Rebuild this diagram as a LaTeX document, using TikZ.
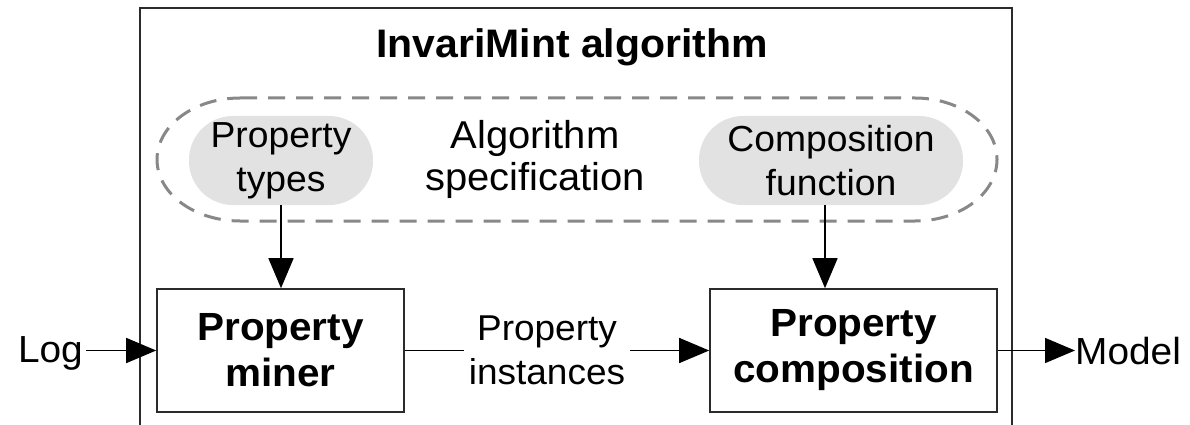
\documentclass[tikz,border=0pt]{standalone}
\usepackage{fontspec}
\setmainfont{Liberation Sans}[FakeStretch=1.03]
\usetikzlibrary{arrows.meta}
\definecolor{pillgray}{HTML}{E2E2E2}
\definecolor{dashgray}{HTML}{888888}
\definecolor{linec}{HTML}{2B2B2B}
\begin{document}
\begin{tikzpicture}[x=1pt,y=-1pt,
  procbox/.style={draw=linec, line width=1.6pt, minimum height=123pt, inner sep=0pt, align=center, font=\bfseries\fontsize{39.3}{46}\selectfont},
  pill/.style={fill=pillgray, rounded corners=44pt, minimum height=89pt, inner sep=0pt, align=center, font=\fontsize{36.2}{44}\selectfont},
  arr/.style={line width=1.5pt, draw=black, -{Triangle[length=30pt,width=25pt]}},
  plainline/.style={line width=1.5pt, draw=black},
  lbl/.style={inner sep=0pt, font=\fontsize{37.7}{42}\selectfont}]
\useasboundingbox (0,0) rectangle (1190,425);
\clip (0,0) rectangle (1190,425);
\fill[white] (0,0) rectangle (1190,425);
% outer frame
\draw[linec, line width=1.8pt] (140,8) rectangle (1012,460);
\node[inner sep=0pt, anchor=base, font=\bfseries\fontsize{39.8}{46}\selectfont] (title) at (572,58) {InvariMint algorithm};
% dashed specification group
\draw[dashgray, line width=3pt, dash pattern=on 17pt off 11pt]
  (240,98) -- (915,98) arc[start angle=-90,end angle=90,x radius=82,y radius=61.5]
  -- (240,221) arc[start angle=90,end angle=270,x radius=83,y radius=61.5] -- cycle;
\node[pill, minimum width=184pt] (pt) at (281,160.5) {Property\\types};
\node[pill, minimum width=264pt] (cf) at (831,160.5) {Composition\\function};
\node[inner sep=0pt, align=center, font=\fontsize{38.8}{42}\selectfont] (spec) at (535,159.5) {Algorithm\\specification};
% process boxes
\node[procbox, minimum width=247pt] (pm) at (280.5,350.5) {Property\\miner};
\node[procbox, minimum width=287pt] (pc) at (853.5,350.5) {Property\\composition};
\node[inner xsep=5pt, inner ysep=0pt, align=center, font=\fontsize{35.9}{44}\selectfont] (pi) at (547,350.5) {Property\\instances};
\node[lbl, anchor=base east] (log) at (83,362) {Log};
\node[lbl, anchor=base west] (model) at (1075,364) {Model};
\coordinate (cfx) at (825,0);
% connectors
\draw[arr] (pt.south) -- (pt.south |- pm.north);
\draw[arr] (cf.south -| cfx) -- (pc.north -| cfx);
\draw[arr] ([xshift=3pt]log.east |- pm.west) -- (pm.west);
\draw[plainline] (pm.east) -- (pi.west);
\draw[arr] (pi.east) -- (pc.west);
\draw[arr] (pc.east) -- (model.west |- pc.east);
\end{tikzpicture}
\end{document}
